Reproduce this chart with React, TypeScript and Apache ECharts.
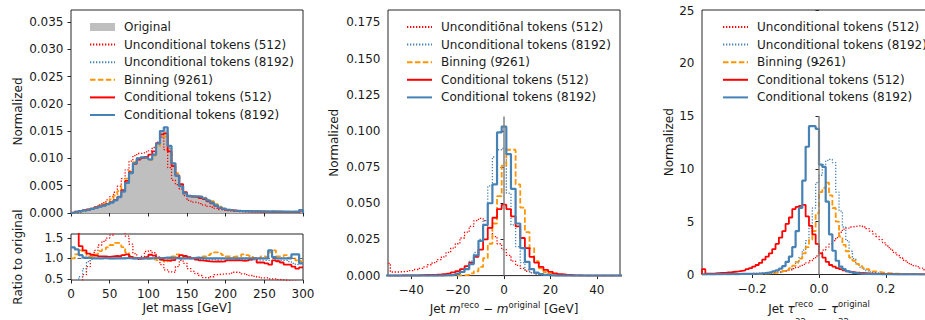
import React, { useEffect, useRef } from "react";
import * as echarts from "echarts";

// ---------------- Panel 1: jet mass, 5 GeV bins from 0 to 300 ----------------
const MASS_FIRST_EDGE = 0;
const MASS_BIN_WIDTH = 5;
const massOriginal = [
  0.00005, 0.00015, 0.0003, 0.00045, 0.0006, 0.00075, 0.00095, 0.00115, 0.00135, 0.0016,
  0.0019, 0.0023, 0.0029, 0.0039, 0.0054, 0.0072, 0.009, 0.0099, 0.0101, 0.01,
  0.0098, 0.0106, 0.0125, 0.0148, 0.0153, 0.012, 0.009, 0.0068, 0.0049, 0.0036,
  0.0031, 0.003, 0.003, 0.0029, 0.0027, 0.0023, 0.0019, 0.0014, 0.001, 0.0008,
  0.0006, 0.0005, 0.00042, 0.00038, 0.00035, 0.00033, 0.00031, 0.0003, 0.00029, 0.00028,
  0.00027, 0.00026, 0.00025, 0.00025, 0.00024, 0.00024, 0.00023, 0.00023, 0.00022, 0.0006,
];
const massUncond512 = [
  0.00002, 0.00005, 0.0001, 0.0003, 0.0005, 0.00075, 0.00115, 0.00155, 0.0019, 0.0024,
  0.003, 0.0038, 0.0049, 0.0063, 0.0079, 0.0095, 0.0105, 0.0109, 0.011, 0.0112,
  0.0114, 0.012, 0.013, 0.0139, 0.0116, 0.0083, 0.006, 0.0052, 0.0044, 0.0032,
  0.0023, 0.002, 0.0019, 0.0017, 0.00145, 0.0012, 0.00105, 0.00085, 0.00062, 0.0005,
  0.00038, 0.00032, 0.00028, 0.00025, 0.00022, 0.0002, 0.00018, 0.00017, 0.00016, 0.00015,
  0.00014, 0.00013, 0.00012, 0.00012, 0.00011, 0.00011, 0.0001, 0.0001, 0.0001, 0.00012,
];
const massUncond8192 = [
  0.00001, 0.00004, 0.00015, 0.00032, 0.00055, 0.00073, 0.00094, 0.00113, 0.00134, 0.00158,
  0.00188, 0.0023, 0.00295, 0.004, 0.0055, 0.0073, 0.0091, 0.0101, 0.0102, 0.01,
  0.0098, 0.0108, 0.0128, 0.0151, 0.0154, 0.0119, 0.009, 0.0069, 0.0048, 0.0036,
  0.0031, 0.003, 0.00295, 0.00285, 0.0026, 0.0022, 0.00185, 0.00135, 0.00096, 0.00077,
  0.00058, 0.00048, 0.0004, 0.00037, 0.00034, 0.00032, 0.0003, 0.00029, 0.00028, 0.00027,
  0.00026, 0.00025, 0.00024, 0.00024, 0.00023, 0.00023, 0.00022, 0.00021, 0.00019, 0.0005,
];
const massBinning = [
  0.00005, 0.00015, 0.00032, 0.00055, 0.00065, 0.00078, 0.00105, 0.00135, 0.0016, 0.002,
  0.0025, 0.0032, 0.004, 0.005, 0.0063, 0.0077, 0.0093, 0.0099, 0.0101, 0.01,
  0.0097, 0.0105, 0.0122, 0.0143, 0.014, 0.0113, 0.0092, 0.0073, 0.0051, 0.0036,
  0.0031, 0.003, 0.003, 0.003, 0.0028, 0.0025, 0.00215, 0.0016, 0.00115, 0.00085,
  0.00063, 0.00052, 0.00044, 0.0004, 0.00038, 0.00036, 0.00033, 0.0003, 0.00029, 0.00029,
  0.00028, 0.0003, 0.00029, 0.00026, 0.00025, 0.00025, 0.00024, 0.00023, 0.00022, 0.00056,
];
const massCond512 = [
  0.00009, 0.00027, 0.0004, 0.00054, 0.00067, 0.00082, 0.00102, 0.00121, 0.00142, 0.00166,
  0.002, 0.0024, 0.003, 0.0042, 0.0059, 0.0075, 0.009, 0.0098, 0.0101, 0.0103,
  0.0107, 0.0113, 0.0128, 0.0144, 0.0146, 0.0113, 0.0086, 0.0069, 0.0053, 0.0038,
  0.0032, 0.003, 0.0029, 0.00275, 0.00255, 0.00215, 0.00175, 0.0013, 0.00093, 0.00074,
  0.00057, 0.00047, 0.0004, 0.00036, 0.00033, 0.00031, 0.0003, 0.0003, 0.00026, 0.00025,
  0.00024, 0.00022, 0.00024, 0.00023, 0.00022, 0.0002, 0.0002, 0.00019, 0.00017, 0.00045,
];
const massCond8192 = [
  0.00006, 0.00019, 0.00035, 0.0005, 0.00062, 0.00076, 0.00095, 0.00115, 0.00136, 0.0016,
  0.0019, 0.0023, 0.0029, 0.0039, 0.0055, 0.0073, 0.0091, 0.01, 0.0102, 0.0101,
  0.0098, 0.0107, 0.0127, 0.015, 0.0157, 0.0123, 0.0091, 0.0068, 0.0049, 0.0036,
  0.0031, 0.00305, 0.00305, 0.00295, 0.0027, 0.0023, 0.0019, 0.0014, 0.001, 0.0008,
  0.0006, 0.0005, 0.00042, 0.00038, 0.00035, 0.00033, 0.00031, 0.0003, 0.00029, 0.00028,
  0.00027, 0.0003, 0.00026, 0.00025, 0.00024, 0.00024, 0.00023, 0.00025, 0.00023, 0.00055,
];
const ratioUncond512 = [
  0.3, 0.3, 0.35, 0.6, 0.8, 1.0, 1.2, 1.33, 1.42, 1.5,
  1.57, 1.65, 1.7, 1.65, 1.55, 1.35, 1.12, 0.98, 1.05, 1.17,
  1.19, 1.14, 1.03, 0.85, 0.72, 0.67, 0.66, 0.8, 0.95, 0.88,
  0.75, 0.68, 0.63, 0.58, 0.53, 0.52, 0.55, 0.6, 0.61, 0.62,
  0.62, 0.64, 0.66, 0.65, 0.62, 0.6, 0.58, 0.56, 0.54, 0.52,
  0.52, 0.5, 0.5, 0.48, 0.47, 0.46, 0.45, 0.44, 0.43, 0.4,
];
const ratioUncond8192 = [
  0.3, 0.4, 0.55, 0.75, 0.92, 0.98, 1.0, 0.99, 1.0, 0.99,
  0.99, 1.0, 1.01, 1.02, 1.01, 1.0, 1.0, 1.02, 1.01, 1.0,
  1.0, 1.01, 1.02, 1.02, 1.01, 0.99, 1.0, 1.01, 0.98, 1.0,
  1.0, 1.0, 0.98, 0.98, 0.97, 0.96, 0.97, 0.96, 0.96, 0.96,
  0.97, 0.96, 0.96, 0.97, 0.97, 0.97, 0.96, 0.97, 0.96, 0.96,
  0.95, 0.95, 0.96, 0.96, 0.95, 0.95, 0.92, 0.88, 0.85, 0.9,
];
const ratioBinning = [
  1.0, 1.1, 1.2, 1.15, 1.05, 1.05, 1.1, 1.18, 1.22, 1.27,
  1.33, 1.38, 1.37, 1.28, 1.15, 1.06, 1.02, 1.0, 1.0, 0.99,
  1.0, 0.98, 0.96, 0.95, 0.92, 0.95, 1.05, 1.1, 1.05, 1.0,
  1.0, 1.0, 1.0, 1.02, 1.05, 1.08, 1.12, 1.15, 1.12, 1.08,
  1.05, 1.04, 1.05, 1.05, 1.1, 1.08, 1.06, 1.0, 1.0, 1.05,
  1.04, 1.15, 1.2, 1.05, 1.05, 1.08, 1.02, 1.0, 0.95, 0.93,
];
const ratioCond512 = [
  1.8, 1.8, 1.3, 1.2, 1.12, 1.09, 1.07, 1.05, 1.05, 1.04,
  1.05, 1.06, 1.05, 1.08, 1.1, 1.04, 1.0, 0.99, 1.0, 1.03,
  1.09, 1.07, 1.02, 0.97, 0.95, 0.94, 0.96, 1.02, 1.08, 1.06,
  1.03, 1.0, 0.97, 0.95, 0.94, 0.93, 0.92, 0.93, 0.92, 0.93,
  0.95, 0.95, 0.96, 0.95, 0.94, 0.95, 0.97, 1.0, 0.9, 0.9,
  0.88, 0.85, 0.95, 0.93, 0.9, 0.85, 0.85, 0.8, 0.75, 0.78,
];
const ratioCond8192 = [
  1.27, 1.22, 1.08, 1.02, 1.01, 1.0, 1.0, 1.0, 1.01, 1.0,
  1.0, 1.0, 1.0, 1.0, 1.01, 1.0, 1.0, 1.01, 1.0, 1.0,
  1.0, 1.01, 1.01, 1.01, 1.02, 1.02, 1.01, 1.0, 1.0, 1.0,
  1.0, 1.01, 1.02, 1.01, 1.0, 1.0, 1.0, 1.0, 1.0, 1.0,
  1.0, 1.0, 1.0, 1.0, 1.0, 1.0, 1.0, 1.0, 1.0, 1.0,
  1.0, 1.2, 1.03, 1.0, 1.0, 1.0, 1.0, 1.1, 1.1, 0.88,
];

// ---------------- Panel 2: mass residual, 2 GeV bins centred on -50..50 ----------------
const RESID_FIRST_EDGE = -51;
const RESID_BIN_WIDTH = 2;
const residUncond512 = [
  0.0085, 0.0025, 0.0025, 0.0028, 0.003, 0.0035, 0.0042, 0.005, 0.006, 0.0075,
  0.009, 0.011, 0.013, 0.016, 0.019, 0.022, 0.026, 0.03, 0.034, 0.038,
  0.0395, 0.038, 0.033, 0.027, 0.022, 0.018, 0.014, 0.01, 0.007, 0.005,
  0.003, 0.002, 0.0012, 0.0007, 0.0004, 0.0002, 0.0001, 0.0001, 0, 0,
  0, 0, 0, 0, 0, 0, 0, 0, 0, 0, 0,
];
const residUncond8192 = [
  0, 0, 0, 0, 0, 0, 0, 0, 0, 0,
  0.0001, 0.0001, 0.0002, 0.0004, 0.0007, 0.0015, 0.003, 0.006, 0.01, 0.016,
  0.025, 0.038, 0.062, 0.082, 0.087, 0.088, 0.057, 0.035, 0.02, 0.009,
  0.004, 0.002, 0.001, 0.0005, 0.0002, 0, 0, 0, 0, 0,
  0, 0, 0, 0, 0, 0, 0, 0, 0, 0, 0,
];
const residBinning = [
  0, 0, 0, 0, 0, 0, 0, 0, 0, 0,
  0, 0, 0, 0, 0, 0, 0.0002, 0.0005, 0.0015, 0.003,
  0.006, 0.012, 0.022, 0.036, 0.055, 0.076, 0.087, 0.087, 0.063, 0.047,
  0.03, 0.019, 0.01, 0.005, 0.0025, 0.0012, 0.0006, 0.0003, 0, 0,
  0, 0, 0, 0, 0, 0, 0, 0, 0, 0, 0,
];
const residCond512 = [
  0, 0, 0, 0.0001, 0.0001, 0.0002, 0.0002, 0.0003, 0.0004, 0.0005,
  0.0006, 0.0008, 0.0011, 0.0015, 0.0022, 0.003, 0.0045, 0.0065, 0.009, 0.013,
  0.018, 0.025, 0.033, 0.04, 0.046, 0.049, 0.046, 0.041, 0.034, 0.026,
  0.019, 0.013, 0.009, 0.006, 0.004, 0.0026, 0.0016, 0.001, 0.0006, 0.0004,
  0.0002, 0.0001, 0, 0, 0, 0, 0, 0, 0, 0, 0,
];
const residCond8192 = [
  0, 0, 0, 0, 0, 0, 0, 0, 0, 0,
  0, 0, 0.0001, 0.0003, 0.0006, 0.0012, 0.0025, 0.0045, 0.008, 0.014,
  0.024, 0.035, 0.05, 0.063, 0.099, 0.103, 0.084, 0.06, 0.036, 0.019,
  0.0095, 0.0045, 0.002, 0.001, 0.0005, 0.0002, 0, 0, 0, 0,
  0, 0, 0, 0, 0, 0, 0, 0, 0, 0, 0,
];

// ---------------- Panel 3: tau32 residual, 0.01 bins from -0.35 to 0.35 ----------------
const TAU_FIRST_EDGE = -0.35;
const TAU_BIN_WIDTH = 0.01;
const tauUncond512 = [
  0.02, 0.02, 0.02, 0.03, 0.03, 0.03, 0.04, 0.04, 0.05, 0.05,
  0.06, 0.06, 0.07, 0.08, 0.09, 0.1, 0.11, 0.12, 0.14, 0.16,
  0.18, 0.2, 0.23, 0.27, 0.32, 0.38, 0.45, 0.55, 0.68, 0.8,
  0.95, 1.1, 1.3, 1.5, 1.75, 2.0, 2.3, 2.6, 2.9, 3.2,
  3.5, 4.0, 4.3, 4.4, 4.5, 4.55, 4.6, 4.6, 4.5, 4.35,
  4.1, 3.85, 3.6, 3.3, 3.0, 2.7, 2.4, 2.1, 1.85, 1.6,
  1.35, 1.15, 0.95, 0.85, 0.75, 0.6, 0.45, 0.35, 0.3, 0.25,
];
const tauUncond8192 = [
  0.01, 0.01, 0.01, 0.01, 0.01, 0.02, 0.02, 0.02, 0.02, 0.02,
  0.02, 0.02, 0.03, 0.03, 0.04, 0.04, 0.05, 0.06, 0.07, 0.08,
  0.1, 0.13, 0.17, 0.22, 0.3, 0.4, 0.55, 0.8, 1.1, 1.6,
  2.3, 3.2, 4.4, 6.3, 8.7, 9.4, 10.4, 10.8, 10.9, 10.6,
  7.8, 6.0, 4.5, 3.2, 2.2, 1.5, 1.0, 0.7, 0.5, 0.35,
  0.25, 0.18, 0.13, 0.1, 0.08, 0.06, 0.05, 0.04, 0.03, 0.03,
  0.02, 0.02, 0.02, 0.01, 0.01, 0.01, 0.01, 0.01, 0.01, 0.01,
];
const tauBinning = [
  0.01, 0.01, 0.01, 0.01, 0.01, 0.02, 0.02, 0.02, 0.02, 0.02,
  0.02, 0.03, 0.03, 0.04, 0.04, 0.05, 0.06, 0.07, 0.08, 0.1,
  0.12, 0.15, 0.2, 0.26, 0.33, 0.42, 0.6, 0.85, 1.2, 1.5,
  2.0, 2.6, 3.3, 4.1, 5.8, 7.8, 8.2, 8.7, 7.5, 6.3,
  5.0, 3.6, 2.8, 2.2, 1.6, 1.3, 1.0, 0.8, 0.6, 0.5,
  0.4, 0.3, 0.25, 0.2, 0.17, 0.14, 0.11, 0.09, 0.07, 0.06,
  0.04, 0.04, 0.03, 0.03, 0.02, 0.02, 0.02, 0.01, 0.01, 0.01,
];
const tauCond512 = [
  0.5, 0.08, 0.09, 0.1, 0.12, 0.14, 0.16, 0.19, 0.22, 0.26,
  0.3, 0.35, 0.4, 0.5, 0.6, 0.75, 0.9, 1.1, 1.4, 1.7,
  2.0, 2.4, 2.9, 3.5, 4.1, 4.8, 5.4, 6.2, 6.4, 6.5,
  6.6, 5.5, 4.6, 3.8, 2.9, 2.0, 1.6, 1.2, 0.9, 0.75,
  0.6, 0.5, 0.4, 0.3, 0.25, 0.2, 0.17, 0.14, 0.12, 0.1,
  0.08, 0.07, 0.06, 0.05, 0.04, 0.03, 0.03, 0.02, 0.02, 0.02,
  0.01, 0.01, 0.01, 0.01, 0.01, 0.01, 0.01, 0.01, 0.01, 0.01,
];
const tauCond8192 = [
  0.02, 0.02, 0.02, 0.02, 0.03, 0.03, 0.03, 0.03, 0.04, 0.04,
  0.04, 0.05, 0.05, 0.06, 0.06, 0.07, 0.08, 0.1, 0.13, 0.17,
  0.22, 0.3, 0.4, 0.55, 0.8, 1.2, 1.7, 2.6, 4.1, 6.3,
  8.9, 12.1, 14.05, 14.05, 13.8, 10.4, 10.2, 6.9, 3.8, 2.25,
  1.3, 0.75, 0.5, 0.32, 0.22, 0.15, 0.11, 0.08, 0.06, 0.05,
  0.04, 0.03, 0.03, 0.02, 0.02, 0.02, 0.01, 0.01, 0.01, 0.01,
  0.01, 0.01, 0.01, 0.01, 0.01, 0, 0, 0, 0, 0,
];

// ---------------- ticks and reference lines ----------------
const massXTicks = [0, 50, 100, 150, 200, 250, 300];
const massYTicks = [0, 0.005, 0.01, 0.015, 0.02, 0.025, 0.03, 0.035];
const ratioYTicks = [0.5, 1.0, 1.5];
const residXTicks = [-40, -20, 0, 20, 40];
const residYTicks = [0, 0.025, 0.05, 0.075, 0.1, 0.125, 0.15, 0.175];
const tauXTicks = [-0.2, 0, 0.2];
const tauYTicks = [0, 5, 10, 15, 20, 25];
const ratioReference = [[0, 1], [300, 1]];
const residZeroLine = [[0, 0], [0, 0.11]];
const tauZeroLine = [[0, 0], [0, 15]];

const N_ORIG = "Original";
const N_U512 = "Unconditional tokens (512)";
const N_U8192 = "Unconditional tokens (8192)";
const N_BIN = "Binning (9261)";
const N_C512 = "Conditional tokens (512)";
const N_C8192 = "Conditional tokens (8192)";

const FONT = "DejaVu Sans";
const TXT = "#1a1a1a";
const FRAME = "#262626";
const RED = "#ff0000";
const BLUE = "#4682b4";
const ORANGE = "#ff9500";
const GREY = "#bfbfbf";

type Sty = { color: string; width: number; type: any };
const S_U512: Sty = { color: RED, width: 1.3, type: [1.3, 1.7] };
const S_U8192: Sty = { color: BLUE, width: 1.3, type: [1.3, 1.7] };
const S_BIN: Sty = { color: ORANGE, width: 1.8, type: [5.5, 2.4] };
const S_C512: Sty = { color: RED, width: 1.8, type: "solid" };
const S_C8192: Sty = { color: BLUE, width: 2.2, type: "solid" };

function histPoints(firstEdge: number, width: number, vals: number[]) {
  const pts: number[][] = [[firstEdge, 0]];
  vals.forEach((v, i) => pts.push([firstEdge + i * width, v]));
  const lastEdge = firstEdge + vals.length * width;
  pts.push([lastEdge, vals[vals.length - 1]]);
  pts.push([lastEdge, 0]);
  return pts;
}
function stepPoints(firstEdge: number, width: number, vals: number[]) {
  const pts: number[][] = vals.map((v, i) => [firstEdge + i * width, v]);
  pts.push([firstEdge + vals.length * width, vals[vals.length - 1]]);
  return pts;
}

function lineSeries(name: string, idx: number, data: number[][], s: Sty, step: any = "end") {
  return {
    type: "line",
    name,
    xAxisIndex: idx,
    yAxisIndex: idx,
    data,
    step,
    symbol: "none",
    showSymbol: false,
    silent: true,
    itemStyle: { color: s.color },
    lineStyle: { color: s.color, width: s.width, type: s.type },
  };
}

const minus = (s: string) => s.replace("-", "\u2212");

function axisCommon(ticks: number[], fmt: ((v: number) => string) | null, margin: number) {
  return {
    axisLine: { show: false },
    splitLine: { show: false },
    axisTick: { show: true, inside: false, length: 3.5, lineStyle: { color: FRAME, width: 1 }, customValues: ticks },
    axisLabel: fmt
      ? { show: true, customValues: ticks, formatter: fmt, margin, color: TXT, fontFamily: FONT, fontSize: 12 }
      : { show: false },
    nameTextStyle: { fontFamily: FONT, fontSize: 12, color: TXT },
  };
}

function buildOption() {
  const grids = [
    { left: 71, top: 10, width: 232, height: 203 },
    { left: 71, top: 234, width: 232, height: 46 },
    { left: 388, top: 10, width: 232, height: 271 },
    { left: 702, top: 10, width: 234, height: 271 },
  ].map((g) => ({ ...g, show: true, borderColor: FRAME, borderWidth: 1, containLabel: false }));

  const rich = (raise: number) => ({
    n: { fontFamily: FONT, fontSize: 12, color: TXT },
    i: { fontFamily: FONT, fontSize: 12, color: TXT, fontStyle: "italic" },
    s: { fontFamily: FONT, fontSize: 8.5, color: TXT, padding: [0, 0, raise * 2, 0] },
  });

  const XM = 8;
  const YM = 7.5;
  const xAxis: any[] = [
    { type: "value", gridIndex: 0, min: 0, max: 300, ...axisCommon(massXTicks, null, XM) },
    {
      type: "value", gridIndex: 1, min: 0, max: 300, ...axisCommon(massXTicks, (v) => String(v), XM),
      name: "Jet mass [GeV]", nameLocation: "middle", nameGap: 22,
    },
    {
      type: "value", gridIndex: 2, min: -50, max: 50, ...axisCommon(residXTicks, (v) => minus(String(v)), XM),
      name: "{n|Jet }{i|m}{s|reco}{n| \u2212 }{i|m}{s|original}{n| [GeV]}",
      nameLocation: "middle", nameGap: 23.5,
    },
    {
      type: "value", gridIndex: 3, min: -0.35, max: 0.35, ...axisCommon(tauXTicks, (v) => minus(v.toFixed(1)), XM),
      name: "{n|Jet }{i|\u03c4}{s|reco}{n| \u2212 }{i|\u03c4}{s|original}",
      nameLocation: "middle", nameGap: 25,
    },
  ];
  xAxis[2].nameTextStyle = { fontFamily: FONT, fontSize: 12, color: TXT, rich: rich(4) };
  xAxis[3].nameTextStyle = { fontFamily: FONT, fontSize: 12, color: TXT, rich: rich(5) };

  const yAxis = [
    {
      type: "value", gridIndex: 0, min: 0, max: 0.0372, ...axisCommon(massYTicks, (v) => v.toFixed(3), YM),
      name: "Normalized", nameLocation: "middle", nameGap: 47,
    },
    {
      type: "value", gridIndex: 1, min: 0.47, max: 1.6, ...axisCommon(ratioYTicks, (v) => v.toFixed(1), YM),
      name: "Ratio to original", nameLocation: "middle", nameGap: 47,
    },
    {
      type: "value", gridIndex: 2, min: 0, max: 0.1836, ...axisCommon(residYTicks, (v) => v.toFixed(3), YM),
      name: "Normalized", nameLocation: "middle", nameGap: 48,
    },
    {
      type: "value", gridIndex: 3, min: 0, max: 25.05, ...axisCommon(tauYTicks, (v) => String(v), YM),
      name: "Normalized", nameLocation: "middle", nameGap: 27,
    },
  ];

  const series: any[] = [];
  // Panel 1 main
  series.push({
    type: "line", name: N_ORIG, xAxisIndex: 0, yAxisIndex: 0, step: "end", symbol: "none", silent: true,
    data: histPoints(MASS_FIRST_EDGE, MASS_BIN_WIDTH, massOriginal),
    itemStyle: { color: GREY }, lineStyle: { width: 0, color: GREY }, areaStyle: { color: GREY, opacity: 1 },
  });
  series.push(lineSeries(N_U512, 0, histPoints(MASS_FIRST_EDGE, MASS_BIN_WIDTH, massUncond512), S_U512));
  series.push(lineSeries(N_U8192, 0, histPoints(MASS_FIRST_EDGE, MASS_BIN_WIDTH, massUncond8192), S_U8192));
  series.push(lineSeries(N_BIN, 0, histPoints(MASS_FIRST_EDGE, MASS_BIN_WIDTH, massBinning), S_BIN));
  series.push(lineSeries(N_C512, 0, histPoints(MASS_FIRST_EDGE, MASS_BIN_WIDTH, massCond512), S_C512));
  series.push(lineSeries(N_C8192, 0, histPoints(MASS_FIRST_EDGE, MASS_BIN_WIDTH, massCond8192), S_C8192));
  // Panel 1 ratio
  series.push(lineSeries("ratio reference", 1, ratioReference, { color: "#555555", width: 1, type: [4, 2.5] }, false));
  series.push(lineSeries(N_U512, 1, stepPoints(MASS_FIRST_EDGE, MASS_BIN_WIDTH, ratioUncond512), S_U512));
  series.push(lineSeries(N_U8192, 1, stepPoints(MASS_FIRST_EDGE, MASS_BIN_WIDTH, ratioUncond8192), S_U8192));
  series.push(lineSeries(N_BIN, 1, stepPoints(MASS_FIRST_EDGE, MASS_BIN_WIDTH, ratioBinning), S_BIN));
  series.push(lineSeries(N_C512, 1, stepPoints(MASS_FIRST_EDGE, MASS_BIN_WIDTH, ratioCond512), S_C512));
  series.push(lineSeries(N_C8192, 1, stepPoints(MASS_FIRST_EDGE, MASS_BIN_WIDTH, ratioCond8192), S_C8192));
  // Panel 2
  series.push(lineSeries(N_U512, 2, histPoints(RESID_FIRST_EDGE, RESID_BIN_WIDTH, residUncond512), S_U512));
  series.push(lineSeries(N_U8192, 2, histPoints(RESID_FIRST_EDGE, RESID_BIN_WIDTH, residUncond8192), S_U8192));
  series.push(lineSeries(N_BIN, 2, histPoints(RESID_FIRST_EDGE, RESID_BIN_WIDTH, residBinning), S_BIN));
  series.push(lineSeries(N_C512, 2, histPoints(RESID_FIRST_EDGE, RESID_BIN_WIDTH, residCond512), S_C512));
  series.push(lineSeries(N_C8192, 2, histPoints(RESID_FIRST_EDGE, RESID_BIN_WIDTH, residCond8192), S_C8192));
  series.push(lineSeries("zero", 2, residZeroLine, { color: "#808080", width: 1.5, type: "solid" }, false));
  // Panel 3
  series.push(lineSeries(N_U512, 3, histPoints(TAU_FIRST_EDGE, TAU_BIN_WIDTH, tauUncond512), S_U512));
  series.push(lineSeries(N_U8192, 3, histPoints(TAU_FIRST_EDGE, TAU_BIN_WIDTH, tauUncond8192), S_U8192));
  series.push(lineSeries(N_BIN, 3, histPoints(TAU_FIRST_EDGE, TAU_BIN_WIDTH, tauBinning), S_BIN));
  series.push(lineSeries(N_C512, 3, histPoints(TAU_FIRST_EDGE, TAU_BIN_WIDTH, tauCond512), S_C512));
  series.push(lineSeries(N_C8192, 3, histPoints(TAU_FIRST_EDGE, TAU_BIN_WIDTH, tauCond8192), S_C8192));
  series.push(lineSeries("zero", 3, tauZeroLine, { color: "#808080", width: 1.5, type: "solid" }, false));

  const legendBase = {
    orient: "vertical",
    itemWidth: 25,
    itemHeight: 8,
    itemGap: 5.6,
    padding: 0,
    selectedMode: false,
    textStyle: { fontFamily: FONT, fontSize: 12, color: TXT, padding: [0, 0, 0, 4] },
  };
  const lineItems = [N_U512, N_U8192, N_BIN, N_C512, N_C8192].map((n) => ({
    name: n,
    itemStyle: { opacity: 0 },
  }));
  const legend = [
    { ...legendBase, left: 89, top: 21, data: [{ name: N_ORIG, icon: "rect" }, ...lineItems] },
    { ...legendBase, left: 406, top: 21, data: lineItems },
    { ...legendBase, left: 722, top: 21, data: lineItems },
  ];

  const graphic = [
    { type: "text", x: 795, y: 317.5, silent: true, style: { text: "32", fontFamily: FONT, fontSize: 8.5, fill: TXT } },
    { type: "text", x: 838, y: 317.5, silent: true, style: { text: "32", fontFamily: FONT, fontSize: 8.5, fill: TXT } },
  ];

  return {
    animation: false,
    backgroundColor: "#ffffff",
    textStyle: { fontFamily: FONT },
    grid: grids,
    xAxis,
    yAxis,
    legend,
    series,
    graphic,
  };
}

export default function App() {
  const ref = useRef<HTMLDivElement>(null);
  useEffect(() => {
    if (!ref.current) return;
    const chart = echarts.init(ref.current, null, { renderer: "svg" });
    chart.setOption(buildOption() as any);
    return () => chart.dispose();
  }, []);
  return (
    <div
      style={{
        position: "fixed",
        left: 0,
        top: 0,
        width: 925,
        height: 320,
        overflow: "hidden",
        background: "#ffffff",
      }}
    >
      <div ref={ref} style={{ width: 950, height: 320 }} />
    </div>
  );
}
